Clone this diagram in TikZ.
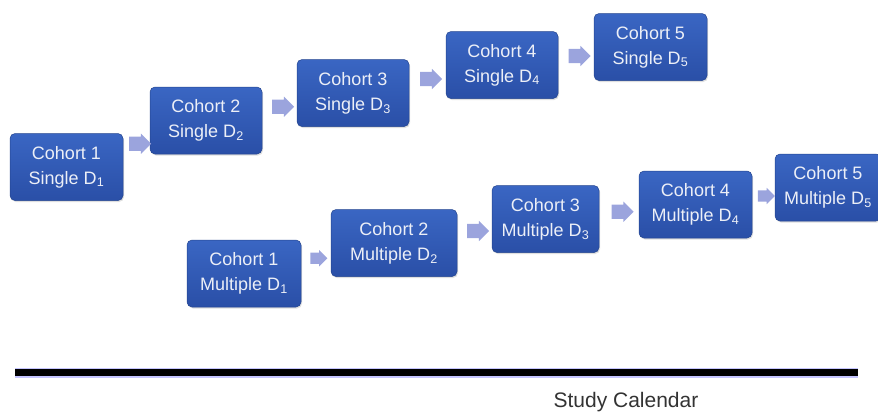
\documentclass[tikz,border=0pt]{standalone}
\usepackage{fontspec}
\setmainfont{Liberation Sans}
\usepackage{tikz}
\usetikzlibrary{shapes.arrows,shadows}

\definecolor{cohorttop}{HTML}{3A66C3}
\definecolor{cohortbot}{HTML}{2A4FA7}
\definecolor{cohortedge}{HTML}{24458F}
\definecolor{arrowblue}{HTML}{9BA4DD}
\definecolor{boxtext}{HTML}{ECEFF7}
\definecolor{caltext}{HTML}{333333}

\begin{document}
\begin{tikzpicture}[x=1pt,y=-1pt,
    cohort/.style={rectangle,rounded corners=5pt,draw=cohortedge,line width=0.5pt,
        top color=cohorttop,bottom color=cohortbot,text=boxtext,align=center,
        font=\fontsize{18}{25}\selectfont,inner sep=0pt,minimum height=67pt,
        drop shadow={opacity=0.25,shadow xshift=1pt,shadow yshift=-1.5pt}},
    blockarrow/.style={single arrow,fill=arrowblue,draw=none,inner xsep=0pt,inner ysep=7pt,
        single arrow head extend=3pt,minimum height=22pt},
    smallarrow/.style={blockarrow,inner ysep=5.5pt,single arrow head extend=2.5pt,minimum height=17pt}]
    \useasboundingbox (0,0) rectangle (878,416);

    % cohort boxes: name/centre x/centre y/width/text
    \foreach \name/\cx/\cy/\w/\txt in {
        s1/66.5/167/113/{Cohort 1\\Single D\textsubscript{1}},
        s2/206/120.5/112/{Cohort 2\\Single D\textsubscript{2}},
        s3/353/93/112/{Cohort 3\\Single D\textsubscript{3}},
        s4/502/65/112/{Cohort 4\\Single D\textsubscript{4}},
        s5/650.5/47/113/{Cohort 5\\Single D\textsubscript{5}},
        m1/244/273.5/114/{Cohort 1\\Multiple D\textsubscript{1}},
        m2/394/243/126/{Cohort 2\\Multiple D\textsubscript{2}},
        m3/545.5/219/107/{Cohort 3\\Multiple D\textsubscript{3}},
        m4/695.5/204.5/113/{Cohort 4\\Multiple D\textsubscript{4}},
        m5/828/187.5/106/{Cohort 5\\Multiple D\textsubscript{5}}} {
        \node[cohort,minimum width=\w pt] (\name) at (\cx,\cy) {\txt};
    }

    % arrows between cohorts
    \foreach \a/\b in {s1/s2,s2/s3,s3/s4,s4/s5,m2/m3,m3/m4} {
        \path (\a.east) -- node[blockarrow] (\a\b) {} (\b.west);
    }
    \foreach \a/\b in {m1/m2,m4/m5} {
        \path (\a.east) -- node[smallarrow] (\a\b) {} (\b.west);
    }

    % time line
    \coordinate (tstart) at (15,372.5);
    \coordinate (tend) at (858,372.5);
    \draw[blue!45,line width=10pt,opacity=0.5] (tstart) -- (tend);
    \draw[black,line width=7.5pt] (tstart) -- (tend);
    \node[text=caltext,font=\fontsize{21}{24}\selectfont] (cal) at (626,402) {Study Calendar};
\end{tikzpicture}
\end{document}
